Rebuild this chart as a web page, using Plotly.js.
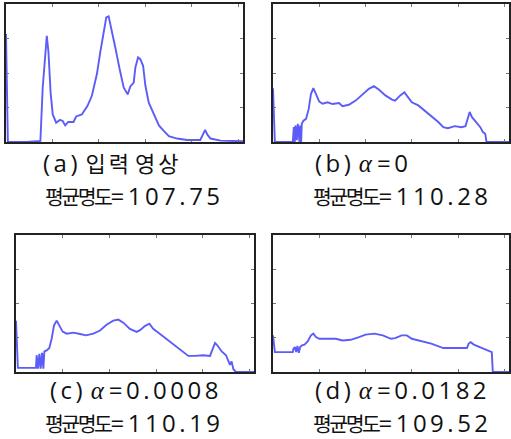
<!DOCTYPE html>
<html><head><meta charset="utf-8">
<script src="https://cdn.plot.ly/plotly-3.0.1.min.js"></script>
<style>html,body{margin:0;padding:0;background:#fff;}#chart{width:511px;height:439px;}</style>
</head><body><div id="chart"></div>
<script>
// Panel (a) input image histogram
const levelsA = [0,1,2,22,37,39.5,43.9,45.7,48,50.3,54,58,61,63.7,67,72.6,75.5,81.6,87.7,92.4,97.8,101.4,105,107.9,110.4,114,117.6,122.3,126.6,130.9,133.8,137.4,139.2,142.1,144.5,147.5,150,153.6,159,164.5,169.8,175.2,184,195,209,211.5,214.3,216.5,220,231,255];
const countsA = [3.13,1.58,0,0,0.03,1.58,3.08,2.6,1.43,0.80,0.56,0.64,0.61,0.48,0.58,0.58,0.74,0.80,1.05,1.34,1.97,2.6,3.22,3.61,3.64,3.22,2.74,2.11,1.58,1.38,1.61,1.72,2.16,2.45,2.4,2.21,1.63,1.14,0.80,0.48,0.32,0.17,0.10,0.06,0.06,0.18,0.35,0.22,0.10,0.04,0.02];
// Panel (b) alpha = 0
const levelsB = [0,1,2,21.4,22.5,23.5,24.3,25.7,26.8,28.6,29.3,30.4,31.1,32.9,35.7,38.6,41,43.6,46.4,50,53.6,59,64.3,71.4,75,82,89.3,96.4,103.6,109,114.3,121.4,128.6,132,137.5,142,145.7,150,157,164,171,178.6,184,189,196.4,203.6,208,210,212.5,215,219.6,224,226.8,229.3,230.7,255];
const countsB = [1.56,0.77,0,0,0.43,0,0.48,0.05,0.53,0,0.48,0,0.53,0.62,0.67,0.96,1.39,1.56,1.39,1.17,1.11,1.15,1.10,1.13,1.04,1.08,1.2,1.37,1.54,1.62,1.52,1.35,1.23,1.2,1.35,1.44,1.30,1.15,1.06,0.91,0.77,0.58,0.43,0.40,0.46,0.43,0.46,0.67,0.87,0.72,0.58,0.43,0.29,0.24,0,0];
// Panel (c) alpha = 0.0008
const levelsC = [0,1,2,21.4,22.1,23.6,25,26.4,27.9,29.3,30.4,32.9,35.7,38.2,40.7,43.6,46.4,50,54.3,61.4,68.6,75,82.9,90,97,104.3,109.6,115,122,129.3,132.9,138,142.9,147,154,161,168.6,177.5,184.6,191.8,200.7,207.9,210.7,213.2,215.7,220.4,225,227.5,229.3,231,232.9,235.7,255];
const countsC = [1.5,0.78,0.12,0.12,0.49,0.1,0.53,0.1,0.56,0.1,0.6,0.63,0.70,0.97,1.36,1.5,1.36,1.18,1.12,1.15,1.11,1.07,1.12,1.21,1.38,1.5,1.53,1.44,1.26,1.17,1.22,1.34,1.41,1.26,1.12,0.97,0.83,0.63,0.47,0.47,0.49,0.47,0.68,0.85,0.78,0.60,0.49,0.34,0.21,0.31,0.08,0,0];
// Panel (d) alpha = 0.0182
const levelsD = [0,1,2,21.4,22.1,23.6,25,26.4,27.9,29.3,31.4,34,37.5,41,43.6,46.4,50,57,68,75,84,93,100,109.6,118.6,127.5,132,139,144.6,150,161,171,184,197,209.6,211.4,213.6,217,223,228.6,234,236.4,237.5,255];
const countsD = [1.07,0.8,0.58,0.58,0.68,0.73,0.58,0.76,0.56,0.73,0.78,0.80,0.89,1.07,1.12,1.02,0.97,0.97,0.97,0.92,0.94,1.02,1.09,1.12,1.07,0.97,0.99,1.07,1.07,0.97,0.89,0.83,0.70,0.70,0.70,0.83,0.87,0.80,0.73,0.66,0.60,0.58,0,0];

const captionTags = ['(a)', '(b)', '(c)', '(d)'];
const captionWords = [['입력', '영상'], null, null, null];
const alphaValues = [null, '0', '0.0008', '0.0182'];
const meanLabel = '평균명도';
const meanValues = ['107.75', '110.28', '110.19', '109.52'];
const xTicks = [0,50,100,150,200,250];
const yTicks = [0,1,2,3,4];

const W = 511, H = 439;
const px = v => v / W, py = v => 1 - v / H;
const panels = [
  {x0:6, x1:243, y0:4, y1:142},
  {x0:273, x1:509, y0:4, y1:142},
  {x0:16, x1:254, y0:235, y1:372},
  {x0:273, x1:509, y0:235, y1:372}
];
const data = [[levelsA,countsA],[levelsB,countsB],[levelsC,countsC],[levelsD,countsD]];
const traces = [];
const layout = {
  width: W, height: H, margin: {l:0,r:0,t:0,b:0},
  paper_bgcolor: '#fff', plot_bgcolor: '#fff', showlegend: false,
  annotations: []
};
panels.forEach((p, i) => {
  const s = i === 0 ? '' : String(i + 1);
  traces.push({
    x: data[i][0], y: data[i][1], type: 'scatter', mode: 'lines',
    xaxis: 'x' + s, yaxis: 'y' + s,
    line: {color: 'rgb(92,92,248)', width: 1.9}, hoverinfo: 'skip'
  });
  layout['xaxis' + s] = {
    range: [0, 255], tickvals: xTicks, ticks: 'inside', ticklen: 3, tickcolor: '#777', tickwidth: 1,
    showticklabels: false, showgrid: false, zeroline: false,
    showline: true, mirror: 'ticks', linecolor: '#222', linewidth: 1.6,
    domain: [px(p.x0), px(p.x1)], anchor: 'y' + s
  };
  layout['yaxis' + s] = {
    range: [0, 4], tickvals: yTicks, ticks: 'inside', ticklen: 3, tickcolor: '#777', tickwidth: 1,
    showticklabels: false, showgrid: false, zeroline: false,
    showline: true, mirror: 'ticks', linecolor: '#222', linewidth: 1.6,
    domain: [py(p.y1), py(p.y0)], anchor: 'x' + s
  };
});
const lat = t => `<span style='font-family:Open Sans;font-size:24px;letter-spacing:3.5px'>${t}</span>`;
const kor = (t, size, ls) => `<span style='font-family:Noto Sans CJK KR;font-size:${size}px;letter-spacing:${ls}px'>${t}</span>`;
const alp = `<span style='font-family:Liberation Serif;font-size:25px;font-style:italic;letter-spacing:5px'>α</span>`;
const capPos = [
  {cx:41, cy:162, mx:43, my:195},
  {cx:313, cy:162, mx:311, my:195},
  {cx:48, cy:389, mx:43, my:422},
  {cx:313, cy:389, mx:311, my:422}
];
captionTags.forEach((tag, i) => {
  const w = captionWords[i];
  const cap = w ? lat(tag) + ' ' + kor(w[0], 22, 3) + kor(' ', 14, 0) + kor(w[1], 22, 3)
                : lat(tag) + ' ' + alp + lat('=' + alphaValues[i]);
  layout.annotations.push({
    xref:'paper', yref:'paper', x: px(capPos[i].cx), y: py(capPos[i].cy),
    xanchor:'left', yanchor:'middle', showarrow:false, text: cap,
    font:{family:'Noto Sans CJK KR', size:20, color:'#111'}
  });
  layout.annotations.push({
    xref:'paper', yref:'paper', x: px(capPos[i].mx), y: py(capPos[i].my),
    xanchor:'left', yanchor:'middle', showarrow:false,
    text: kor(meanLabel, 20.5, -2.5) + lat('=' + meanValues[i]),
    font:{family:'Noto Sans CJK KR', size:20, color:'#111'}
  });
});
Plotly.newPlot('chart', traces, layout, {staticPlot:true, displayModeBar:false});
</script></body></html>
